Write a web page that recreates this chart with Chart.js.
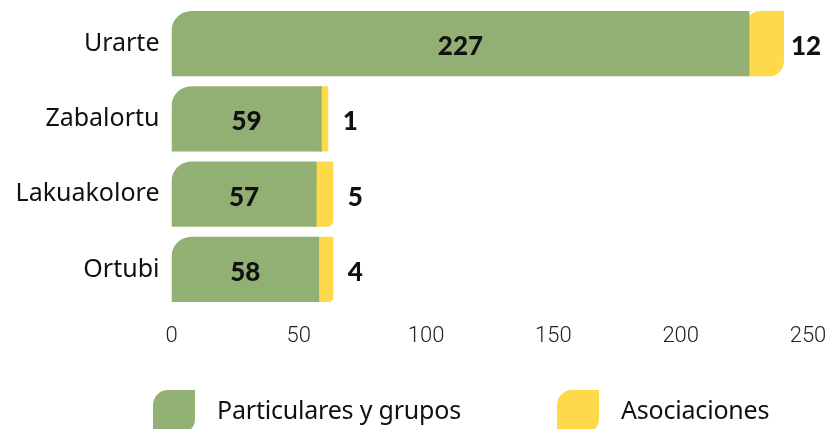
<!DOCTYPE html>
<html>
<head>
<meta charset="utf-8">
<script src="https://cdn.jsdelivr.net/npm/chart.js@4.4.1/dist/chart.umd.min.js"></script>
<style>
  html, body { margin: 0; padding: 0; background: #fff; }
  #wrap { position: relative; width: 835px; height: 429px; overflow: hidden; }
  #legend { position: absolute; left: 0; top: 390px; width: 835px; height: 39px; }
  .item { position: absolute; top: 0; display: flex; align-items: flex-start; }
  .swatch { width: 42px; height: 44px; border-radius: 15px 0 15px 0; }
  .label { font-family: "Noto Sans", sans-serif; font-size: 25px; color: #111; margin-left: 22px; line-height: 1; padding-top: 7px; letter-spacing: -0.2px; }
</style>
</head>
<body>
<div id="wrap">
  <canvas id="chart" width="835" height="429"></canvas>
  <div id="legend"></div>
</div>
<script>
// Data
var categories = ['Urarte', 'Zabalortu', 'Lakuakolore', 'Ortubi'];
var particulares = [227, 59, 57, 58];
var asociaciones = [12, 1, 5, 4];
var seriesNames = ['Particulares y grupos', 'Asociaciones'];
var xTicks = [0, 50, 100, 150, 200, 250];

var GREEN = '#93b074';
var YELLOW = '#fed94a';

// Value labels: inside the green bar, to the right of the yellow bar
var valueLabels = {
  id: 'valueLabels',
  afterDatasetsDraw: function(chart) {
    var ctx = chart.ctx;
    var xs = chart.scales.x;
    ctx.save();
    ctx.fillStyle = '#111';
    ctx.font = '900 26px Lato, "Noto Sans", sans-serif';
    ctx.textAlign = 'center';
    ctx.textBaseline = 'middle';
    chart.getDatasetMeta(0).data.forEach(function(bar, i) {
      ctx.fillText(String(particulares[i]), (bar.base + bar.x) / 2, bar.y + 3);
    });
    chart.getDatasetMeta(1).data.forEach(function(bar, i) {
      var end = xs.getPixelForValue(particulares[i] + asociaciones[i]);
      ctx.fillText(String(asociaciones[i]), end + 26, bar.y + 3);
    });
    ctx.restore();
  }
};

var ctx = document.getElementById('chart').getContext('2d');
var chart = new Chart(ctx, {
  type: 'bar',
  data: {
    labels: categories,
    datasets: [
      {
        label: seriesNames[0],
        data: particulares,
        backgroundColor: GREEN,
        borderSkipped: false,
        borderRadius: { topLeft: 20, topRight: 0, bottomLeft: 0, bottomRight: 0 },
        barPercentage: 0.87,
        categoryPercentage: 1
      },
      {
        label: seriesNames[1],
        data: asociaciones,
        backgroundColor: YELLOW,
        borderSkipped: false,
        borderRadius: { topLeft: 16, topRight: 0, bottomLeft: 0, bottomRight: 16 },
        inflateAmount: 4,
        barPercentage: 0.764,
        categoryPercentage: 1
      }
    ]
  },
  options: {
    indexAxis: 'y',
    responsive: false,
    animation: false,
    layout: { padding: { top: 6, right: 27, bottom: 72, left: 0 } },
    plugins: {
      legend: { display: false },
      tooltip: { enabled: false }
    },
    scales: {
      x: {
        stacked: true,
        min: 0,
        max: 250,
        grid: { display: false, drawTicks: false },
        border: { display: false },
        afterBuildTicks: function(scale) {
          scale.ticks = xTicks.map(function(v) { return { value: v }; });
        },
        afterFit: function(scale) {
          scale.height = 50;
          scale.paddingLeft = 0;
          scale.paddingRight = 0;
        },
        ticks: {
          padding: 16,
          color: '#222',
          font: { family: 'Roboto', size: 22, weight: '300' }
        }
      },
      y: {
        stacked: true,
        grid: { display: false, drawTicks: false },
        border: { display: false },
        afterFit: function(scale) {
          scale.width = 171.5;
          scale.paddingTop = 0;
          scale.paddingBottom = 0;
        },
        ticks: {
          padding: 12,
          color: '#111',
          font: { family: '"Noto Sans"', size: 25 }
        }
      }
    }
  },
  plugins: [valueLabels]
});

// HTML legend built from the datasets
var legendX = [153, 557];
var legend = document.getElementById('legend');
chart.data.datasets.forEach(function(ds, i) {
  var item = document.createElement('div');
  item.className = 'item';
  item.style.left = legendX[i] + 'px';
  var sw = document.createElement('div');
  sw.className = 'swatch';
  sw.style.background = ds.backgroundColor;
  var lb = document.createElement('div');
  lb.className = 'label';
  lb.textContent = ds.label;
  item.appendChild(sw);
  item.appendChild(lb);
  legend.appendChild(item);
});
</script>
</body>
</html>
